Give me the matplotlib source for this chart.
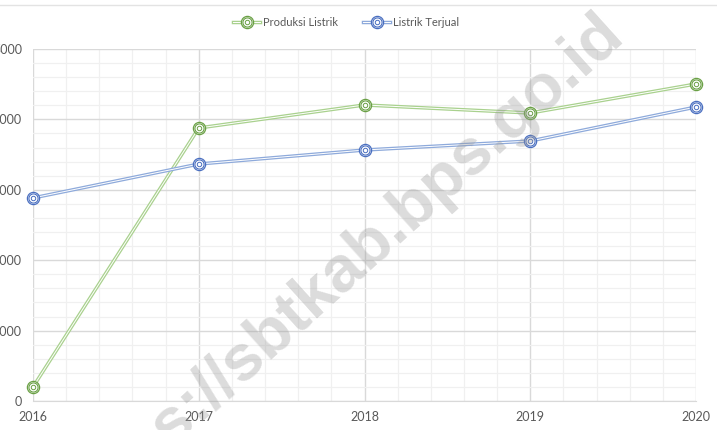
import matplotlib
matplotlib.use("Agg")
import matplotlib.pyplot as plt
import matplotlib.patheffects as pe
from matplotlib.legend_handler import HandlerTuple
from matplotlib.lines import Line2D

years = [2016, 2017, 2018, 2019, 2020]
produksi = [199, 3878, 4205, 4091, 4503]
terjual = [2884, 3366, 3565, 3693, 4176]
series_names = ["Produksi Listrik", "Listrik Terjual"]
y_ticks = [0, 1000, 2000, 3000, 4000, 5000]

plt.rcParams['font.family'] = ['Lato', 'DejaVu Sans']

W, H = 717, 430
fig = plt.figure(figsize=(W / 100, H / 100), dpi=100)
ax = fig.add_axes([33 / W, 1 - 401 / H, (696 - 33) / W, (401 - 49) / H])

ax.set_xlim(2016, 2020)
ax.set_ylim(0, 5000)
ax.set_yticks(y_ticks)
ax.set_yticklabels([str(v) for v in y_ticks])
ax.set_xticks(years)
ax.set_xticklabels([str(y) for y in years])
ax.set_yticks([v for v in range(0, 5001, 200) if v % 1000], minor=True)
ax.set_xticks([2016 + i * 0.2 for i in range(21) if i % 5], minor=True)
ax.grid(which='major', color='#d9d9d9', lw=1.0)
ax.grid(which='minor', color='#f0f0f0', lw=0.9)
ax.set_axisbelow(True)
ax.tick_params(which='both', length=0)
ax.tick_params(axis='y', pad=8, labelsize=9, labelcolor='#595959')
ax.tick_params(axis='x', pad=7, labelsize=9, labelcolor='#595959')
for s in ['top', 'right', 'left']:
    ax.spines[s].set_visible(False)
ax.spines['bottom'].set_color('#d9d9d9')

def draw(vals, line_c, mark_c):
    ln, = ax.plot(years, vals, color='white', lw=0.7, zorder=3,
                  path_effects=[pe.Stroke(linewidth=2.5, foreground=line_c), pe.Normal()])
    m1, = ax.plot(years, vals, ls='none', marker='o', ms=8.8, mfc='white', mec=mark_c, mew=0.9, zorder=4)
    m2, = ax.plot(years, vals, ls='none', marker='o', ms=6.6, mfc='none', mec=mark_c, mew=0.8, zorder=5)
    m3, = ax.plot(years, vals, ls='none', marker='o', ms=3.2, mfc='none', mec=mark_c, mew=0.7, zorder=5)
    for a in (ln, m1, m2, m3):
        a.set_clip_on(False)
    return (ln, m1, m2, m3)

h1 = draw(produksi, '#a9d18e', '#6aa045')
h2 = draw(terjual, '#8eaadb', '#4a6fc0')

fig.legend([h1, h2], series_names, handler_map={tuple: HandlerTuple(ndivide=1)},
           loc='center', bbox_to_anchor=(346 / W, 1 - 22 / H), ncol=2, frameon=False,
           fontsize=8, labelcolor='#595959', handlelength=2.5, columnspacing=2.2,
           handletextpad=0.25, borderpad=0, borderaxespad=0)

fig.add_artist(Line2D([0, 1], [1 - 4.5 / H, 1 - 4.5 / H], color='#e3e3e3', lw=1, transform=fig.transFigure))

fig.text(614 / W, 1 - 24 / H, "https://sbtkab.bps.go.id", fontsize=47, fontweight='bold',
         color='#9a9a9a', alpha=0.35, rotation=42, rotation_mode='anchor',
         ha='right', va='center', zorder=10, family=['Liberation Sans'])

fig.savefig('out.png', dpi=100)
